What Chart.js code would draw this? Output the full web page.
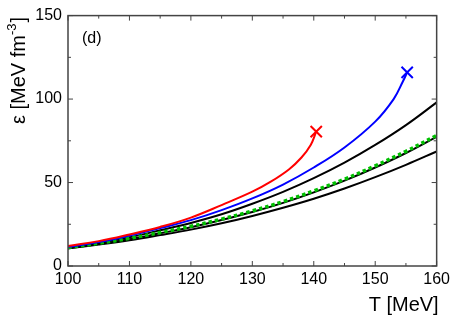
<!DOCTYPE html>
<html>
<head>
<meta charset="utf-8">
<script src="https://cdn.jsdelivr.net/npm/chart.js@4"></script>
<style>
  html, body { margin: 0; padding: 0; background: #fff; }
  #wrap { width: 454px; height: 321px; }
</style>
</head>
<body>
<div id="wrap"><canvas id="chart" width="454" height="321"></canvas></div>
<script>
// temperatures for the three black curves and the green dotted one
const tGrid = [100, 105, 110, 115, 120, 125, 130, 135, 140, 145, 150, 155, 160];
const epsBlackTop = [11.0, 13.8, 17.2, 21.4, 25.8, 31.0, 37.3, 44.4, 52.6, 61.9, 72.5, 84.4, 98.0];
const epsBlackMid = [10.7, 13.1, 16.1, 19.6, 23.2, 27.5, 32.3, 37.8, 44.1, 51.1, 59.0, 67.7, 77.4];
const epsGreen    = [11.1, 13.6, 16.6, 20.1, 23.8, 28.1, 33.0, 38.6, 45.0, 52.0, 60.0, 68.7, 78.2];
const epsBlackLow = [10.5, 12.8, 15.4, 18.5, 21.8, 25.6, 30.0, 34.9, 40.3, 46.4, 53.2, 60.6, 68.6];

// red curve ends with an X
const tRed   = [100, 105, 110, 115, 120, 125, 130, 133, 136, 138, 139.5, 140.4];
const epsRed = [12.0, 14.9, 18.9, 23.4, 29.0, 36.5, 44.5, 50.5, 58.0, 65.0, 72.5, 80.5];

// blue curve ends with an X
const tBlue   = [100, 105, 110, 115, 120, 125, 130, 135, 140, 145, 150, 153, 154.5, 155.2];
const epsBlue = [11.5, 14.3, 18.2, 22.7, 27.5, 33.5, 40.5, 48.8, 59.0, 71.0, 86.5, 100.0, 110.5, 116.0];

const xTicks = [100, 110, 120, 130, 140, 150, 160];
const yTicks = [0, 50, 100, 150];

const FONT = '"Liberation Sans", Arial, Helvetica, sans-serif';

function pts(xs, ys) { return xs.map((x, i) => ({ x: x, y: ys[i] })); }
function last(xs, ys) { return [{ x: xs[xs.length - 1], y: ys[ys.length - 1] }]; }

// lower "order" is drawn on top
function curve(data, color, width, order, dash) {
  return {
    data: data,
    order: order,
    borderColor: color,
    backgroundColor: color,
    borderWidth: width,
    borderDash: dash || [],
    borderCapStyle: 'butt',
    pointRadius: 0,
    fill: false,
    tension: 0.4
  };
}
function cross(data, color) {
  return {
    data: data,
    order: 0,
    showLine: false,
    pointStyle: 'crossRot',
    pointRadius: 8,
    borderColor: color,
    borderWidth: 2
  };
}

// frame, inward ticks and titles
const decor = {
  id: 'decor',
  afterDraw(chart) {
    const ctx = chart.ctx;
    const a = chart.chartArea;
    const xs = chart.scales.x, ys = chart.scales.y;
    ctx.save();
    ctx.strokeStyle = '#444';
    ctx.lineWidth = 1.5;
    ctx.strokeRect(a.left, a.top, a.right - a.left, a.bottom - a.top);

    ctx.lineWidth = 1;
    ctx.beginPath();
    for (let v = 100; v <= 160; v += 5) {
      const px = xs.getPixelForValue(v);
      const len = v % 10 === 0 ? 5 : 3;
      ctx.moveTo(px, a.bottom); ctx.lineTo(px, a.bottom - len);
      ctx.moveTo(px, a.top); ctx.lineTo(px, a.top + len);
    }
    for (let v = 0; v <= 150; v += 25) {
      const py = ys.getPixelForValue(v);
      const len = v % 50 === 0 ? 5 : 3;
      ctx.moveTo(a.left, py); ctx.lineTo(a.left + len, py);
      ctx.moveTo(a.right, py); ctx.lineTo(a.right - len, py);
    }
    ctx.stroke();

    ctx.fillStyle = '#000';
    // panel label
    ctx.font = '16px ' + FONT;
    ctx.textAlign = 'left';
    ctx.textBaseline = 'alphabetic';
    ctx.fillText('(d)', 82, 43);

    // x title
    ctx.font = '20px ' + FONT;
    ctx.textAlign = 'right';
    ctx.fillText('T [MeV]', a.right + 2, 311);

    // y title, rotated, ending near the top
    ctx.translate(25, 17);
    ctx.rotate(-Math.PI / 2);
    ctx.textAlign = 'left';
    const main = 'ε [MeV fm', sup = '-3', end = ']';
    ctx.font = '20px ' + FONT;
    const wMain = ctx.measureText(main).width;
    const wEnd = ctx.measureText(end).width;
    ctx.font = '13px ' + FONT;
    const wSup = ctx.measureText(sup).width;
    let x = -(wMain + wSup + wEnd + 1);
    ctx.font = '20px ' + FONT;
    ctx.fillText(main, x, 0);
    x += wMain;
    ctx.font = '13px ' + FONT;
    ctx.fillText(sup, x, -9);
    x += wSup + 1;
    ctx.font = '20px ' + FONT;
    ctx.fillText(end, x, 0);
    ctx.restore();
  }
};

new Chart(document.getElementById('chart').getContext('2d'), {
  type: 'line',
  data: {
    datasets: [
      curve(pts(tGrid, epsBlackTop), '#000', 2, 5),
      curve(pts(tGrid, epsBlackMid), '#000', 2, 5),
      curve(pts(tGrid, epsBlackLow), '#000', 2, 5),
      curve(pts(tGrid, epsGreen), '#00c000', 3.5, 3, [3.5, 3]),
      curve(pts(tBlue, epsBlue), '#0000ff', 2, 2),
      curve(pts(tRed, epsRed), '#ff0000', 2, 1),
      cross(last(tBlue, epsBlue), '#0000ff'),
      cross(last(tRed, epsRed), '#ff0000')
    ]
  },
  options: {
    responsive: false,
    animation: false,
    layout: { padding: { left: 0, right: 15, top: 10, bottom: 0 } },
    plugins: { legend: { display: false }, tooltip: { enabled: false } },
    scales: {
      x: {
        type: 'linear', min: 100, max: 160,
        afterBuildTicks: s => { s.ticks = xTicks.map(v => ({ value: v })); },
        afterFit: s => { s.height = 55; },
        grid: { display: false, drawTicks: false },
        border: { display: false },
        ticks: { color: '#000', font: { family: FONT, size: 16 }, padding: 4, maxRotation: 0 }
      },
      y: {
        type: 'linear', min: 0, max: 150,
        afterBuildTicks: s => { s.ticks = yTicks.map(v => ({ value: v })); },
        afterFit: s => { s.width = 68; },
        grid: { display: false, drawTicks: false },
        border: { display: false },
        ticks: { color: '#000', font: { family: FONT, size: 16 }, padding: 6 }
      }
    }
  },
  plugins: [decor]
});
</script>
</body>
</html>
